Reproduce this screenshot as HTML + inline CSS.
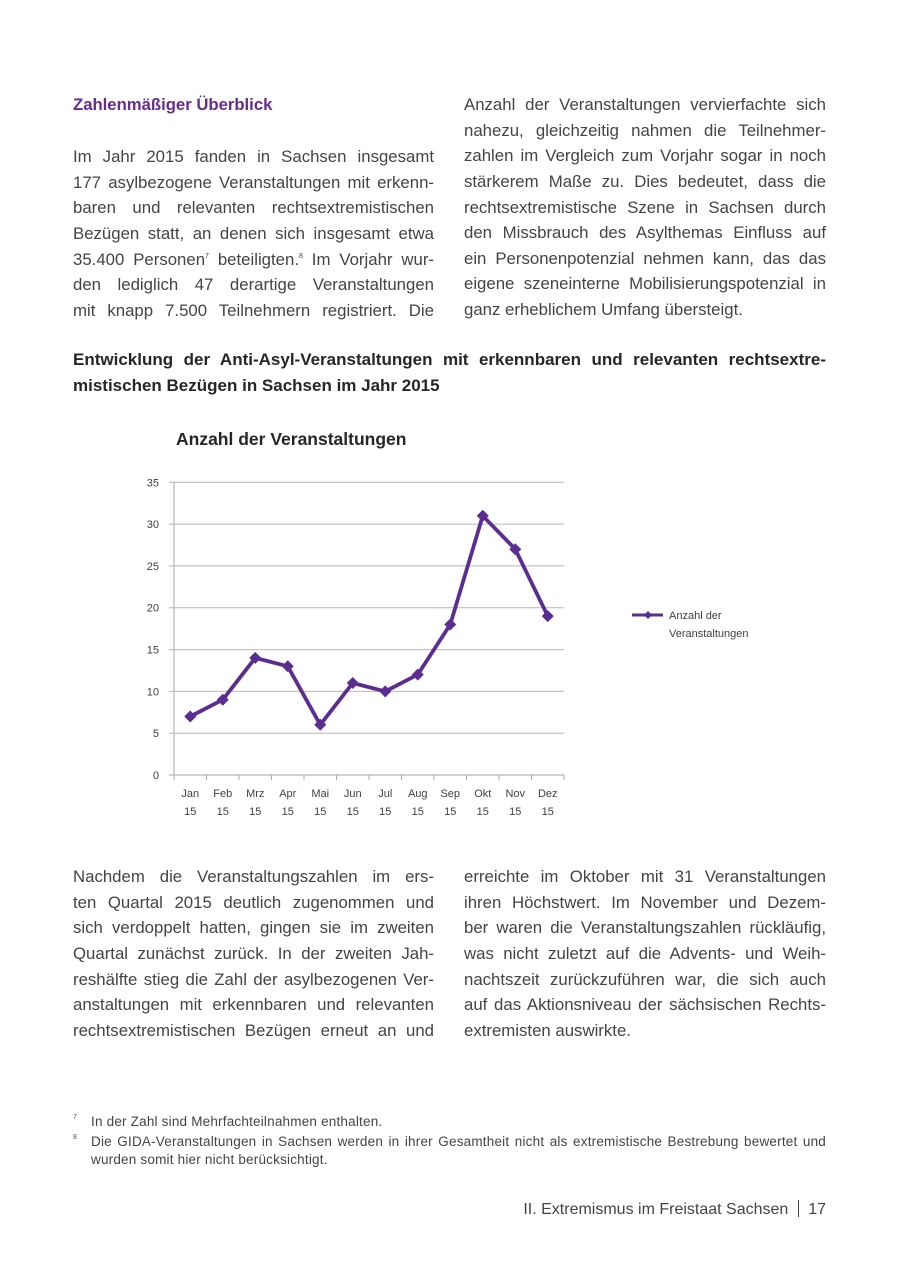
<!DOCTYPE html>
<html>
<head>
<meta charset="utf-8">
<style>
  html,body{margin:0;padding:0;background:#fff;}
  body{width:900px;height:1276px;position:relative;overflow:hidden;font-family:"Liberation Sans",sans-serif;color:#444;}
  .blk{position:absolute;font-size:16.8px;line-height:25.65px;}
  .blk div{text-align:justify;text-align-last:justify;height:25.65px;}
  .blk div.l{text-align:left;text-align-last:left;}
  sup{font-size:7px;line-height:0;vertical-align:7px;}
  .h1{position:absolute;left:73px;top:92px;font-size:16.7px;font-weight:bold;color:#6a2b8f;line-height:26px;}
  .h2{position:absolute;left:73px;top:347px;width:753px;font-size:17px;font-weight:bold;color:#262626;line-height:26px;}
  .h2 div{text-align:justify;text-align-last:justify;height:26px;}
  .h2 div.l{text-align-last:left;}
  .fn{position:absolute;font-size:13.5px;letter-spacing:0.2px;color:#444;line-height:19px;}
  .fnn{position:absolute;font-size:7px;color:#555;}
  .foot{position:absolute;right:74px;top:1199px;font-size:16px;color:#444;line-height:22px;}
</style>
</head>
<body>

<div class="h1">Zahlenmäßiger Überblick</div>

<div class="blk" style="left:73px;top:144px;width:361px;">
  <div>Im Jahr 2015 fanden in Sachsen insgesamt</div>
  <div>177 asylbezogene Veranstaltungen mit erkenn-</div>
  <div>baren und relevanten rechtsextremistischen</div>
  <div>Bezügen statt, an denen sich insgesamt etwa</div>
  <div>35.400 Personen<sup>7</sup> beteiligten.<sup>8</sup> Im Vorjahr wur-</div>
  <div>den lediglich 47 derartige Veranstaltungen</div>
  <div>mit knapp 7.500 Teilnehmern registriert. Die</div>
</div>

<div class="blk" style="left:464px;top:92px;width:362px;">
  <div>Anzahl der Veranstaltungen vervierfachte sich</div>
  <div>nahezu, gleichzeitig nahmen die Teilnehmer-</div>
  <div>zahlen im Vergleich zum Vorjahr sogar in noch</div>
  <div>stärkerem Maße zu. Dies bedeutet, dass die</div>
  <div>rechtsextremistische Szene in Sachsen durch</div>
  <div>den Missbrauch des Asylthemas Einfluss auf</div>
  <div>ein Personenpotenzial nehmen kann, das das</div>
  <div>eigene szeneinterne Mobilisierungspotenzial in</div>
  <div class="l">ganz erheblichem Umfang übersteigt.</div>
</div>

<div class="h2">
  <div>Entwicklung der Anti-Asyl-Veranstaltungen mit erkennbaren und relevanten rechtsextre-</div>
  <div class="l">mistischen Bezügen in Sachsen im Jahr 2015</div>
</div>

<svg style="position:absolute;left:0;top:0;" width="900" height="1276" xmlns="http://www.w3.org/2000/svg">
  <text x="176" y="445" font-family="Liberation Sans, sans-serif" font-size="17.5" font-weight="bold" fill="#262626">Anzahl der Veranstaltungen</text>
  <g stroke="#b8b8b8" stroke-width="1">
    <line x1="169" y1="482.3" x2="564" y2="482.3"/>
    <line x1="169" y1="524.1" x2="564" y2="524.1"/>
    <line x1="169" y1="565.9" x2="564" y2="565.9"/>
    <line x1="169" y1="607.7" x2="564" y2="607.7"/>
    <line x1="169" y1="649.6" x2="564" y2="649.6"/>
    <line x1="169" y1="691.4" x2="564" y2="691.4"/>
    <line x1="169" y1="733.2" x2="564" y2="733.2"/>
  </g>
  <g stroke="#a6a6a6" stroke-width="1">
    <line x1="174" y1="482" x2="174" y2="775"/>
    <line x1="169" y1="775" x2="564.5" y2="775"/>
    <line x1="174" y1="775" x2="174" y2="780"/>
    <line x1="206.5" y1="775" x2="206.5" y2="780"/>
    <line x1="239" y1="775" x2="239" y2="780"/>
    <line x1="271.5" y1="775" x2="271.5" y2="780"/>
    <line x1="304" y1="775" x2="304" y2="780"/>
    <line x1="336.5" y1="775" x2="336.5" y2="780"/>
    <line x1="369" y1="775" x2="369" y2="780"/>
    <line x1="401.5" y1="775" x2="401.5" y2="780"/>
    <line x1="434" y1="775" x2="434" y2="780"/>
    <line x1="466.5" y1="775" x2="466.5" y2="780"/>
    <line x1="499" y1="775" x2="499" y2="780"/>
    <line x1="531.5" y1="775" x2="531.5" y2="780"/>
    <line x1="564" y1="775" x2="564" y2="780"/>
  </g>
  <g font-family="Liberation Sans, sans-serif" font-size="11" fill="#404040" text-anchor="end">
    <text x="159" y="486.3">35</text>
    <text x="159" y="528.1">30</text>
    <text x="159" y="569.9">25</text>
    <text x="159" y="611.7">20</text>
    <text x="159" y="653.6">15</text>
    <text x="159" y="695.4">10</text>
    <text x="159" y="737.2">5</text>
    <text x="159" y="779">0</text>
  </g>
  <g font-family="Liberation Sans, sans-serif" font-size="11" fill="#404040" text-anchor="middle">
    <text x="190.25" y="797">Jan</text><text x="190.25" y="815">15</text>
    <text x="222.75" y="797">Feb</text><text x="222.75" y="815">15</text>
    <text x="255.25" y="797">Mrz</text><text x="255.25" y="815">15</text>
    <text x="287.75" y="797">Apr</text><text x="287.75" y="815">15</text>
    <text x="320.25" y="797">Mai</text><text x="320.25" y="815">15</text>
    <text x="352.75" y="797">Jun</text><text x="352.75" y="815">15</text>
    <text x="385.25" y="797">Jul</text><text x="385.25" y="815">15</text>
    <text x="417.75" y="797">Aug</text><text x="417.75" y="815">15</text>
    <text x="450.25" y="797">Sep</text><text x="450.25" y="815">15</text>
    <text x="482.75" y="797">Okt</text><text x="482.75" y="815">15</text>
    <text x="515.25" y="797">Nov</text><text x="515.25" y="815">15</text>
    <text x="547.75" y="797">Dez</text><text x="547.75" y="815">15</text>
  </g>
  <polyline fill="none" stroke="#5c2d91" stroke-width="3.8" stroke-linejoin="round"
    points="190.25,716.5 222.75,699.7 255.25,657.9 287.75,666.3 320.25,724.8 352.75,683.0 385.25,691.4 417.75,674.6 450.25,624.5 482.75,515.8 515.25,549.2 547.75,616.1"/>
  <g fill="#5c2d91">
    <polygon points="190.25,710.5 196.25,716.5 190.25,722.5 184.25,716.5"/>
    <polygon points="222.75,693.7 228.75,699.7 222.75,705.7 216.75,699.7"/>
    <polygon points="255.25,651.9 261.25,657.9 255.25,663.9 249.25,657.9"/>
    <polygon points="287.75,660.3 293.75,666.3 287.75,672.3 281.75,666.3"/>
    <polygon points="320.25,718.8 326.25,724.8 320.25,730.8 314.25,724.8"/>
    <polygon points="352.75,677 358.75,683 352.75,689 346.75,683"/>
    <polygon points="385.25,685.4 391.25,691.4 385.25,697.4 379.25,691.4"/>
    <polygon points="417.75,668.6 423.75,674.6 417.75,680.6 411.75,674.6"/>
    <polygon points="450.25,618.5 456.25,624.5 450.25,630.5 444.25,624.5"/>
    <polygon points="482.75,509.8 488.75,515.8 482.75,521.8 476.75,515.8"/>
    <polygon points="515.25,543.2 521.25,549.2 515.25,555.2 509.25,549.2"/>
    <polygon points="547.75,610.1 553.75,616.1 547.75,622.1 541.75,616.1"/>
  </g>
  <line x1="632" y1="615" x2="663" y2="615" stroke="#5c2d91" stroke-width="3"/>
  <polygon points="648,611 652,615 648,619 644,615" fill="#5c2d91"/>
  <g font-family="Liberation Sans, sans-serif" font-size="11" fill="#404040">
    <text x="669" y="619">Anzahl der</text>
    <text x="669" y="637">Veranstaltungen</text>
  </g>
</svg>

<div class="blk" style="left:73px;top:864px;width:361px;">
  <div>Nachdem die Veranstaltungszahlen im ers-</div>
  <div>ten Quartal 2015 deutlich zugenommen und</div>
  <div>sich verdoppelt hatten, gingen sie im zweiten</div>
  <div>Quartal zunächst zurück. In der zweiten Jah-</div>
  <div>reshälfte stieg die Zahl der asylbezogenen Ver-</div>
  <div>anstaltungen mit erkennbaren und relevanten</div>
  <div>rechtsextremistischen Bezügen erneut an und</div>
</div>

<div class="blk" style="left:464px;top:864px;width:362px;">
  <div>erreichte im Oktober mit 31 Veranstaltungen</div>
  <div>ihren Höchstwert. Im November und Dezem-</div>
  <div>ber waren die Veranstaltungszahlen rückläufig,</div>
  <div>was nicht zuletzt auf die Advents- und Weih-</div>
  <div>nachtszeit zurückzuführen war, die sich auch</div>
  <div>auf das Aktionsniveau der sächsischen Rechts-</div>
  <div class="l">extremisten auswirkte.</div>
</div>

<div class="fnn" style="left:73px;top:1114px;">7</div>
<div class="fn" style="left:91px;top:1112px;">In der Zahl sind Mehrfachteilnahmen enthalten.</div>
<div class="fnn" style="left:73px;top:1134px;">8</div>
<div class="fn" style="left:91px;top:1132px;width:735px;text-align:justify;text-align-last:justify;">Die GIDA-Veranstaltungen in Sachsen werden in ihrer Gesamtheit nicht als extremistische Bestrebung bewertet und</div>
<div class="fn" style="left:91px;top:1150px;">wurden somit hier nicht berücksichtigt.</div>

<div class="foot">II. Extremismus im Freistaat Sachsen <span style="display:inline-block;width:1px;height:17px;background:#444;vertical-align:-3px;margin:0 5px;"></span> 17</div>

</body>
</html>
